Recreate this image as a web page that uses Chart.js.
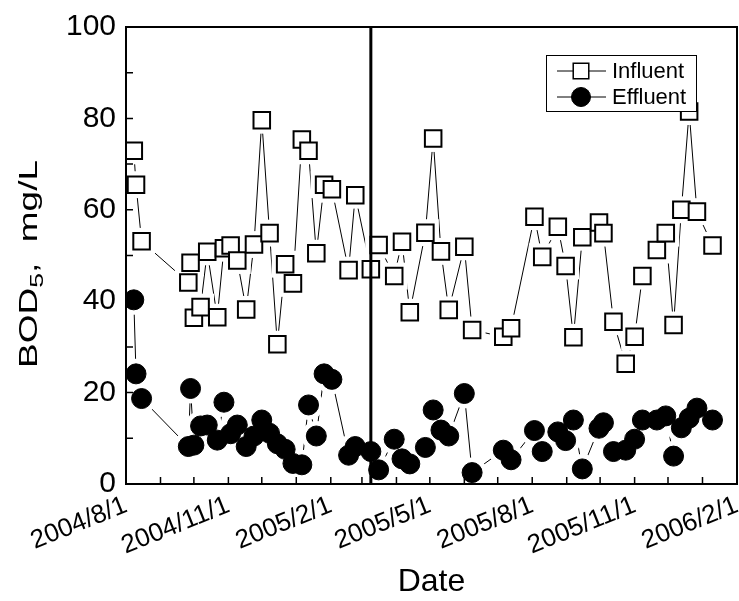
<!DOCTYPE html>
<html>
<head>
<meta charset="utf-8">
<script src="https://cdn.jsdelivr.net/npm/chart.js@4.4.1/dist/chart.umd.min.js"></script>
<style>
  html, body { margin: 0; padding: 0; background: #fff; overflow: hidden; }
  canvas { display: block; }
</style>
</head>
<body>
<canvas id="bodChart" width="739" height="601"></canvas>
<script>
// BOD5 of influent / effluent, sampling dates
const sampleDates = [
    '2004-08-08', '2004-08-10', '2004-08-15', '2004-09-26', '2004-09-28', '2004-10-01',
    '2004-10-07', '2004-10-13', '2004-10-22', '2004-10-28', '2004-11-03', '2004-11-09',
    '2004-11-17', '2004-11-24', '2004-12-01', '2004-12-08', '2004-12-15', '2004-12-22',
    '2004-12-29', '2005-01-06', '2005-01-12', '2005-01-19', '2005-01-26', '2005-02-02',
    '2005-02-17', '2005-02-23', '2005-03-09', '2005-03-16', '2005-03-30', '2005-04-06',
    '2005-04-13', '2005-04-27', '2005-05-04', '2005-05-11', '2005-05-18', '2005-06-01',
    '2005-06-08', '2005-07-06', '2005-07-13', '2005-08-03', '2005-08-10', '2005-08-24',
    '2005-08-31', '2005-09-07', '2005-09-15', '2005-09-30', '2005-10-04', '2005-10-13',
    '2005-10-24', '2005-11-01', '2005-11-08', '2005-11-21', '2005-11-29', '2005-12-06',
    '2005-12-13', '2005-12-20', '2005-12-27', '2006-01-10'
];
const influent = [
    72.9, 65.5, 53.1, 44.1, 48.4, 36.4, 38.7, 50.8, 36.5, 51.6, 52.2, 48.9,
    38.2, 52.4, 79.6, 54.9, 30.6, 48.1, 43.9, 75.4, 72.9, 50.5, 65.5, 64.5,
    46.8, 63.2, 47.0, 52.3, 45.5, 53.0, 37.6, 55.0, 75.6, 50.9, 38.1, 51.9,
    33.7, 32.2, 34.1, 58.5, 49.7, 56.3, 47.7, 32.1, 54.0, 57.2, 54.9, 35.5,
    26.3, 32.2, 45.5, 51.2, 54.9, 34.8, 60.0, 81.5, 59.6, 52.2
];
const effluent = [
    40.3, 24.1, 18.7, 8.2, 20.9, 8.5, 12.7, 12.9, 9.6, 17.9, 11.0, 12.9,
    8.2, 10.5, 14.0, 11.1, 8.8, 7.6, 4.5, 4.2, 17.3, 10.5, 24.1, 22.9,
    6.3, 8.2, 7.1, 3.1, 9.8, 5.5, 4.4, 8.0, 16.2, 11.8, 10.5, 19.8,
    2.5, 7.4, 5.3, 11.7, 7.1, 11.4, 9.5, 14.0, 3.3, 12.2, 13.4, 7.1,
    7.4, 9.8, 14.0, 14.0, 14.9, 6.1, 12.3, 14.4, 16.6, 14.0
];

// x axis: monthly tick marks, labels every three months
const monthTicks = [
    '2004-08-01', '2004-09-01', '2004-10-01', '2004-11-01', '2004-12-01', '2005-01-01',
    '2005-02-01', '2005-03-01', '2005-04-01', '2005-05-01', '2005-06-01', '2005-07-01',
    '2005-08-01', '2005-09-01', '2005-10-01', '2005-11-01', '2005-12-01', '2006-01-01',
    '2006-02-01'
];
const xTickLabels = {
    '2004-08-01': '2004/8/1', '2004-11-01': '2004/11/1', '2005-02-01': '2005/2/1',
    '2005-05-01': '2005/5/1', '2005-08-01': '2005/8/1', '2005-11-01': '2005/11/1',
    '2006-02-01': '2006/2/1'
};
const yMinorTicks = [10, 30, 50, 70, 90];
const splitDate = '2005-03-09';   // vertical divider

const origin = Date.UTC(2004, 7, 1);
function dayOf(s) {
    const p = s.split('-').map(Number);
    return (Date.UTC(p[0], p[1] - 1, p[2]) - origin) / 86400000;
}
const labelForDay = {};
monthTicks.forEach(d => { labelForDay[dayOf(d)] = xTickLabels[d] || ''; });

const inflPts = sampleDates.map((d, i) => ({ x: dayOf(d), y: influent[i] }));
const efflPts = sampleDates.map((d, i) => ({ x: dayOf(d), y: effluent[i] }));

const FONT = "'Liberation Sans', Arial, sans-serif";
const noPadding = () => ({ left: 0, top: 0, right: 0, bottom: 0 });

// frame, inward ticks, divider, y title and legend
const decorPlugin = {
    id: 'decor',
    afterDraw(chart) {
        const ctx = chart.ctx;
        const a = chart.chartArea;
        const xs = chart.scales.x, ys = chart.scales.y;
        ctx.save();
        ctx.strokeStyle = '#000';

        // divider line
        const xd = xs.getPixelForValue(dayOf(splitDate));
        ctx.lineWidth = 3;
        ctx.beginPath();
        ctx.moveTo(xd, a.top);
        ctx.lineTo(xd, a.bottom);
        ctx.stroke();

        // frame
        ctx.lineWidth = 2;
        ctx.strokeRect(a.left, a.top, a.right - a.left, a.bottom - a.top);

        // inward ticks
        ctx.lineWidth = 1.5;
        ctx.beginPath();
        monthTicks.forEach(d => {
            const x = xs.getPixelForValue(dayOf(d));
            ctx.moveTo(x, a.bottom);
            ctx.lineTo(x, a.bottom - 7);
        });
        ys.ticks.map(t => t.value).concat(yMinorTicks).forEach(v => {
            const y = ys.getPixelForValue(v);
            ctx.moveTo(a.left, y);
            ctx.lineTo(a.left + 7, y);
        });
        ctx.stroke();

        // y title with subscript
        ctx.save();
        ctx.translate(37, 264);
        ctx.rotate(-Math.PI / 2);
        const parts = [
            { t: 'BOD', f: '25px ' + FONT, dy: 0 },
            { t: '5', f: '18px ' + FONT, dy: 6 },
            { t: ',  mg/L', f: '25px ' + FONT, dy: 0 }
        ];
        let w = 0;
        parts.forEach(p => { ctx.font = p.f; p.w = ctx.measureText(p.t).width; w += p.w; });
        const stretch = 208 / w;
        ctx.scale(stretch, 1);
        let x0 = -w / 2;
        ctx.fillStyle = '#000';
        ctx.textBaseline = 'alphabetic';
        ctx.textAlign = 'left';
        parts.forEach(p => {
            ctx.font = p.f;
            ctx.fillText(p.t, x0, p.dy);
            x0 += p.w;
        });
        ctx.restore();

        // legend
        const lx = a.right - 191, ly = a.top + 28;
        ctx.fillStyle = '#fff';
        ctx.fillRect(lx, ly, 150, 56);
        ctx.lineWidth = 1;
        ctx.strokeRect(lx + 0.5, ly + 0.5, 150, 56);
        const items = [
            { label: 'Influent', style: 'rect', r: 11, fill: '#fff', bw: 1.5 },
            { label: 'Effluent', style: 'circle', r: 9.5, fill: '#000', bw: 1 }
        ];
        items.forEach((it, i) => {
            const cy = ly + 16 + i * 26;
            ctx.strokeStyle = '#000';
            ctx.lineWidth = 1;
            ctx.beginPath();
            ctx.moveTo(lx + 11, cy);
            ctx.lineTo(lx + 60, cy);
            ctx.stroke();
            ctx.fillStyle = it.fill;
            ctx.lineWidth = it.bw;
            Chart.helpers.drawPoint(ctx, { pointStyle: it.style, radius: it.r, rotation: 0, borderWidth: it.bw }, lx + 35, cy);
            ctx.fillStyle = '#000';
            ctx.font = '22px ' + FONT;
            ctx.textBaseline = 'middle';
            ctx.textAlign = 'left';
            ctx.fillText(it.label, lx + 66, cy + 1);
        });
        ctx.restore();
    }
};

new Chart(document.getElementById('bodChart'), {
    type: 'line',
    data: {
        datasets: [
            // connecting lines
            { label: 'Influent', data: inflPts, borderColor: '#000', borderWidth: 1, pointRadius: 0, order: 6 },
            { label: 'Effluent', data: efflPts, borderColor: '#000', borderWidth: 1, pointRadius: 0, order: 5 },
            // white halo so lines stop short of the markers
            { data: inflPts, showLine: false, pointStyle: 'rect', pointRadius: 19,
              pointBackgroundColor: '#fff', pointBorderWidth: 0, order: 4 },
            { data: efflPts, showLine: false, pointStyle: 'circle', pointRadius: 15,
              pointBackgroundColor: '#fff', pointBorderWidth: 0, order: 3 },
            // markers
            { data: inflPts, showLine: false, pointStyle: 'rect', pointRadius: 11.7,
              pointBackgroundColor: '#fff', pointBorderColor: '#000', pointBorderWidth: 2, order: 2 },
            { data: efflPts, showLine: false, pointStyle: 'circle', pointRadius: 10,
              pointBackgroundColor: '#000', pointBorderColor: '#000', pointBorderWidth: 1, order: 1 }
        ]
    },
    options: {
        responsive: false,
        animation: false,
        devicePixelRatio: 1,
        events: [],
        layout: { autoPadding: false, padding: { top: 27, right: 2, left: 0, bottom: 0 } },
        plugins: {
            legend: { display: false },
            tooltip: { enabled: false }
        },
        scales: {
            x: {
                type: 'linear',
                min: 0,
                max: dayOf('2006-02-01'),
                grid: { display: false, drawTicks: false },
                border: { display: false },
                afterBuildTicks(scale) {
                    scale.ticks = monthTicks.map(d => ({ value: dayOf(d) }));
                },
                afterFit(scale) {
                    scale.height = 117;
                    scale.paddingLeft = 0;
                    scale.paddingRight = 0;
                    scale.getPadding = noPadding;
                },
                ticks: {
                    autoSkip: false,
                    minRotation: 22,
                    maxRotation: 22,
                    padding: 6,
                    color: '#000',
                    font: { family: FONT, size: 26 },
                    callback: v => labelForDay[v] || ''
                },
                title: {
                    display: true,
                    text: 'Date',
                    color: '#000',
                    font: { family: FONT, size: 32 },
                    padding: { top: 0, bottom: 0 }
                }
            },
            y: {
                min: 0,
                max: 100,
                grid: { display: false, drawTicks: false },
                border: { display: false },
                afterFit(scale) {
                    scale.width = 126;
                    scale.paddingTop = 0;
                    scale.paddingBottom = 0;
                    scale.getPadding = noPadding;
                },
                ticks: {
                    stepSize: 20,
                    padding: 10,
                    color: '#000',
                    font: { family: FONT, size: 30 }
                }
            }
        }
    },
    plugins: [decorPlugin]
});
</script>
</body>
</html>
